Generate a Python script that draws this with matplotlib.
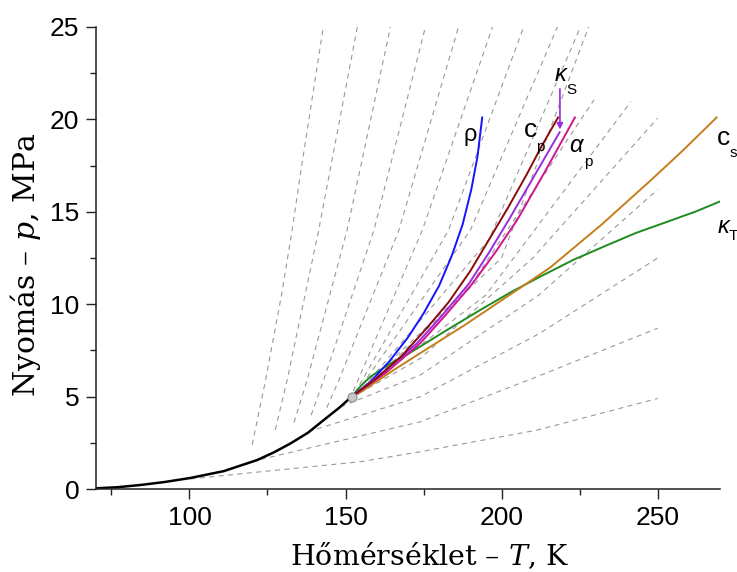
import numpy as np
import matplotlib
matplotlib.use("Agg")
from matplotlib import pyplot as plt

plt.rcParams["font.family"] = ["Liberation Sans", "DejaVu Sans"]
plt.rcParams["mathtext.fontset"] = "custom"
plt.rcParams["mathtext.rm"] = "DejaVu Serif"
plt.rcParams["mathtext.it"] = "DejaVu Serif:italic"

# saturation (vapour pressure) curve and critical point
sat_T = [70, 77, 84.3, 92, 100.3, 111, 121.7, 127, 132.4, 138, 143, 148, 152]
sat_p = [0.04, 0.1, 0.22, 0.38, 0.6, 0.97, 1.57, 1.98, 2.47, 3.05, 3.73, 4.4, 5.0]
crit_T, crit_p = 152, 5.0

# Widom-type lines for the different properties
rho_T = [152, 158, 164, 170, 175, 180, 184, 187.5, 190.3, 192.3, 193.8]
rho_p = [5.0, 5.8, 6.9, 8.2, 9.5, 11.0, 12.6, 14.3, 16.2, 18.0, 20.1]
cp_T = [152, 160, 168, 176, 183, 190, 196, 202, 208, 213, 218.1]
cp_p = [5.0, 6.0, 7.2, 8.7, 10.1, 11.8, 13.5, 15.2, 17.0, 18.6, 20.1]
ks_T = [152, 162, 173, 181, 189.5, 196, 202.3, 210, 218.6]
ks_p = [5.0, 6.3, 7.9, 9.4, 11.1, 12.8, 14.56, 16.8, 19.3]
ap_T = [152, 163, 174, 182, 190.6, 198, 205, 214, 223.5]
ap_p = [5.0, 6.3, 7.9, 9.4, 11.1, 12.8, 14.56, 17.2, 20.1]
cs_T = [152, 155.9, 166, 177.2, 188, 198.6, 207, 215.7, 232, 247.8, 258, 268.9]
cs_p = [5.0, 5.36, 6.5, 7.7, 8.85, 10.05, 11.0, 12.0, 14.3, 16.7, 18.3, 20.1]
kt_T = [152, 155, 158, 164, 171.9, 182, 193.3, 203, 212.5, 223, 233.9, 243, 253.1, 262, 269.9]
kt_p = [5.0, 5.6, 6.08, 6.75, 7.5, 8.55, 9.7, 10.65, 11.5, 12.4, 13.2, 13.85, 14.46, 15.0, 15.55]

# gray dashed background lines
iso_T = [
    [120.1, 124.4, 129.5, 132.9, 135.6, 142.9],
    [127.5, 131.3, 141.4, 153.8],
    [133.5, 137.7, 150.5, 164.4],
    [139, 143.0, 159.1, 175.6],
    [144, 147.9, 167.1, 186.2],
    [152.5, 174.6, 197.1],
    [153, 183, 207.1],
    [153.5, 190, 217.9],
    [154, 196, 225.3],
    [154, 200, 227.9],
    [153, 190, 229.6],
    [153, 195, 241.4],
    [152, 174, 210, 250],
    [148.4, 174, 212, 250],
    [138, 174, 212, 250],
    [122.8, 174, 211.4, 250],
    [100.3, 154.8, 174, 211.4, 250],
]
iso_p = [
    [2.4, 5.9, 10.5, 14.0, 17.1, 25],
    [3.2, 5.9, 14, 25],
    [3.6, 5.9, 14, 25],
    [4.0, 5.9, 14, 25],
    [4.4, 5.9, 14, 25],
    [5.3, 14, 25],
    [5.2, 14, 25],
    [5.2, 14, 25],
    [5.15, 13.5, 25],
    [5.1, 12.5, 25],
    [5.1, 11, 21.05],
    [5.05, 10.5, 20.95],
    [4.95, 7.07, 12.5, 20.06],
    [4.45, 6.17, 10.5, 16.2],
    [3.1, 5.0, 8.4, 12.5],
    [1.6, 3.64, 6.08, 8.7],
    [0.55, 1.48, 2.02, 3.19, 4.9],
]

fig = plt.figure(figsize=(7.37, 5.72), dpi=100)
ax = fig.add_axes([0.130, 0.145, 0.847, 0.808])

for t, p in zip(iso_T, iso_p):
    ax.plot(t, p, ls=(0, (4.5, 4)), color="#999999", lw=0.8)

ax.plot(sat_T, sat_p, color="black", lw=1.8, solid_capstyle="round")
ax.plot(kt_T, kt_p, color="#1f8a1f", lw=1.4)
ax.plot(cs_T, cs_p, color="#c47f1c", lw=1.4)
ax.plot(rho_T, rho_p, color="#1414ff", lw=1.4)
ax.plot(ap_T, ap_p, color="#d0158f", lw=1.4)
ax.plot(ks_T, ks_p, color="#9a2be2", lw=1.4)
ax.plot(cp_T, cp_p, color="#8b0a0a", lw=1.4)
ax.annotate("", xy=(218.7, 19.3), xytext=(218.7, 21.8),
            arrowprops=dict(arrowstyle="-|>", color="#9a2be2", lw=1.2, mutation_scale=9))
ax.plot([crit_T], [crit_p], "o", ms=6.5, mfc="#c8c8c8", mec="#8c8c8c", mew=0.8, zorder=10)

# curve labels
lab = dict(ha="center", va="center", color="black", clip_on=False)
ax.text(190.1, 19.15, "ρ", fontsize=17, **lab)
ax.text(209.3, 19.4, "c", fontsize=19, **lab)
ax.text(212.4, 18.5, "p", fontsize=11, **lab)
ax.text(218.9, 22.4, "κ", fontsize=17, style="italic", **lab)
ax.text(222.3, 21.6, "S", fontsize=11, **lab)
ax.text(223.9, 18.6, "α", fontsize=17, style="italic", **lab)
ax.text(227.8, 17.7, "p", fontsize=11, **lab)
ax.text(271.2, 19.0, "c", fontsize=19, **lab)
ax.text(274.4, 18.2, "s", fontsize=11, **lab)
ax.text(271.2, 14.2, "κ", fontsize=17, style="italic", **lab)
ax.text(274.4, 13.7, "T", fontsize=11, **lab)

ax.set_xlim(70, 270)
ax.set_ylim(0, 25)
ax.set_xticks([100, 150, 200, 250])
ax.set_xticks([75, 125, 175, 225], minor=True)
ax.set_yticks([0, 5, 10, 15, 20, 25])
ax.set_yticks([2.5, 7.5, 12.5, 17.5, 22.5], minor=True)
ax.tick_params(which="major", direction="out", length=7, width=1, labelsize=19, color="#222222")
ax.tick_params(axis="y", which="major", pad=5)
ax.tick_params(axis="x", which="major", pad=5)
ax.tick_params(which="minor", direction="out", length=4.5, width=1, color="#222222")
for s in ["top", "right"]:
    ax.spines[s].set_visible(False)
for s in ["left", "bottom"]:
    ax.spines[s].set_linewidth(1.1)
    ax.spines[s].set_color("#222222")

ax.set_xlabel("Hőmérséklet – $T$, K", fontsize=20.5, family="DejaVu Serif")
ax.set_ylabel("Nyomás – $p$, MPa", fontsize=21.5, family="DejaVu Serif")
ax.xaxis.set_label_coords(0.535, -0.143)
ax.yaxis.set_label_coords(-0.113, 0.485)
ax.xaxis.label.set_va("center")
ax.yaxis.label.set_va("center")

fig.savefig("out.png", dpi=100)
